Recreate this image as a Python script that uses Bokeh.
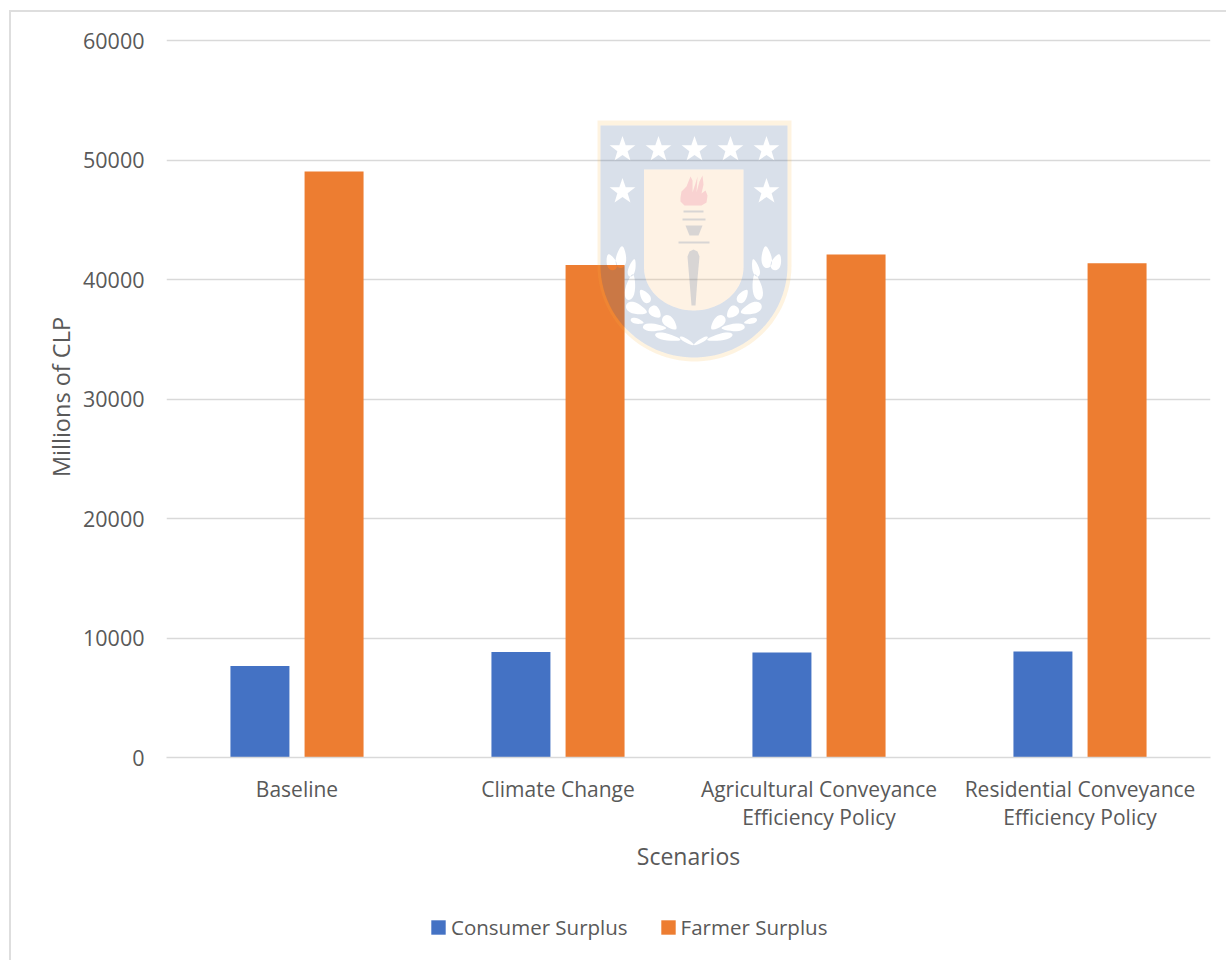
import numpy as np
from bokeh.embed import file_html
from bokeh.layouts import column
from bokeh.resources import INLINE
from bokeh.plotting import figure
from bokeh.models import (ColumnDataSource, FactorRange, Range1d, FixedTicker, Legend, LegendItem,
                          InlineStyleSheet)
from bokeh.transform import dodge

# Economic surplus by scenario, millions of CLP
scenarios = ["Baseline", "Climate Change",
             "Agricultural Conveyance\nEfficiency Policy",
             "Residential Conveyance\nEfficiency Policy"]
consumer_surplus = [7650, 8820, 8780, 8860]
farmer_surplus = [49040, 41220, 42100, 41350]
y_ticks = [0, 10000, 20000, 30000, 40000, 50000, 60000]

FONT = "Open Sans"
TEXT = "#595959"
RULE = "#d9d9d9"
BLUE = "#4472C4"
ORANGE = "#ED7D31"
EDGE = "#dedede"

W = 1226
PLOT_H, LEGEND_H = 905, 55
LEFT, RIGHT, TOP, BOTTOM = 166, 16, 36, 148
# The range runs a little past the top tick so that its grid line is kept
Y_TOP = 60000 * (1 + 4 / 717)

p = figure(width=W, height=PLOT_H, output_backend="svg", toolbar_location=None,
           x_range=FactorRange(factors=scenarios, range_padding=0, factor_padding=0),
           y_range=Range1d(0, Y_TOP),
           min_border_left=LEFT, min_border_right=RIGHT, min_border_top=TOP, min_border_bottom=BOTTOM)
p.outline_line_color = None
p.background_fill_color = "white"
p.border_fill_color = "white"

src = ColumnDataSource(dict(scenario=scenarios, consumer=consumer_surplus, farmer=farmer_surplus))
p.vbar(x=dodge("scenario", -0.142, range=p.x_range), top="consumer", width=0.226, source=src,
       fill_color=BLUE, line_color=None)
p.vbar(x=dodge("scenario", 0.142, range=p.x_range), top="farmer", width=0.226, source=src,
       fill_color=ORANGE, line_color=None)

# Axes and grid
p.xgrid.grid_line_color = None
p.ygrid.grid_line_color = RULE
p.ygrid.grid_line_width = 1.5
p.ygrid.ticker = FixedTicker(ticks=y_ticks)

ax = p.xaxis[0]
ax.axis_line_color = RULE
ax.axis_line_width = 1.5
ax.major_tick_line_color = None
ax.minor_tick_line_color = None
ax.major_label_text_font = FONT
ax.major_label_text_font_size = "21px"
ax.major_label_text_color = TEXT
ax.major_label_standoff = 11
ax.major_label_text_line_height = 1.0
ax.axis_label = "Scenarios"
ax.axis_label_text_font = FONT
ax.axis_label_text_font_style = "normal"
ax.axis_label_text_font_size = "23px"
ax.axis_label_text_color = TEXT
ax.axis_label_standoff = 6

ay = p.yaxis[0]
ay.ticker = FixedTicker(ticks=y_ticks)
ay.axis_line_color = None
ay.major_tick_line_color = None
ay.minor_tick_line_color = None
ay.major_label_text_font = FONT
ay.major_label_text_font_size = "21.5px"
ay.major_label_text_color = TEXT
ay.major_label_standoff = 16
ay.axis_label = "Millions of CLP"
ay.axis_label_text_font = FONT
ay.axis_label_text_font_style = "normal"
ay.axis_label_text_font_size = "23.5px"
ay.axis_label_text_color = TEXT
ay.axis_label_standoff = 3

# Legend strip underneath the plot; its frame lines up with the plot's frame.
# The two key bars have no extent, so only their legend swatches appear.
strip = figure(width=W, height=LEGEND_H, output_backend="svg", toolbar_location=None,
               x_range=Range1d(0, 1), y_range=Range1d(0, 1),
               x_axis_location=None, y_axis_location=None,
               min_border=0, outline_line_color=None)
strip.grid.visible = False
r1 = strip.vbar(x=[-5], top=[-5], bottom=[-5], width=0, fill_color=BLUE, line_color=None)
r2 = strip.vbar(x=[-5], top=[-5], bottom=[-5], width=0, fill_color=ORANGE, line_color=None)
legend = Legend(items=[LegendItem(label="Consumer Surplus", renderers=[r1]),
                       LegendItem(label="Farmer Surplus", renderers=[r2])],
                orientation="horizontal", location=(263, 19),
                padding=0, margin=0, spacing=31, border_line_color=None, background_fill_color=None,
                glyph_width=18, glyph_height=18, label_standoff=4,
                label_text_font=FONT, label_text_font_size="20.5px", label_text_color=TEXT,
                label_height=20)
strip.add_layout(legend, "center")

# Chart area border, open on the right and at the bottom
p.stylesheets = [InlineStyleSheet(css=(
    ":host::after{content:'';position:absolute;left:9px;top:10px;right:0;bottom:0;pointer-events:none;"
    f"border-left:2px solid {EDGE};border-top:2px solid {EDGE};}}"))]
strip.stylesheets = [InlineStyleSheet(css=(
    ":host::after{content:'';position:absolute;left:9px;top:0;bottom:0;pointer-events:none;"
    f"border-left:2px solid {EDGE};}}"))]

# University crest watermark, laid out in canvas pixels
p.extra_y_ranges["crest"] = Range1d(PLOT_H - BOTTOM, TOP)


def gx(values):
    # Canvas x to the category axis' synthetic coordinate
    return ((np.asarray(values, dtype=float) - LEFT) / (W - LEFT - RIGHT) * len(scenarios)).tolist()


def shield(x0, x1, top, shoulder, bottom):
    t = np.linspace(0, np.pi, 50)
    cx, rx = (x0 + x1) / 2, (x1 - x0) / 2
    xs = np.concatenate([[x0, x1], cx + rx * np.cos(t)])
    ys = np.concatenate([[top, top], shoulder + (bottom - shoulder) * np.sin(t)])
    return gx(xs), ys.tolist()


def star(cx, cy, r=13.5):
    a = -np.pi / 2 + np.arange(10) * np.pi / 5
    rr = np.where(np.arange(10) % 2 == 0, r, r * 0.4)
    return gx(cx + rr * np.cos(a)), (cy + rr * np.sin(a)).tolist()


def leaf(zx, zy, length, width, angle, mirror=False):
    # Outline of one laurel leaf; sizes come in 1/3 px
    t = np.linspace(0, 2 * np.pi, 24, endpoint=False)
    u = length / 6 * np.cos(t)
    v = width / 6 * np.sin(t) * (1 - 0.35 * np.cos(t))
    a = np.radians(angle)
    x = 580 + zx / 3 + u * np.cos(a) - v * np.sin(a)
    y = 110 + zy / 3 - u * np.sin(a) - v * np.cos(a)
    if mirror:
        x = 2 * (580 + 340 / 3) - x
    return gx(x), y.tolist()


laurel = [(122, 440, 66, 30, 85), (92, 455, 50, 28, 110), (155, 472, 54, 20, 75),
          (150, 530, 78, 28, 80), (193, 557, 46, 25, 125), (168, 595, 66, 32, -20),
          (224, 605, 42, 30, -45), (170, 632, 40, 16, -15), (268, 637, 54, 30, -45),
          (222, 651, 70, 22, -3), (262, 680, 78, 20, -12), (320, 692, 50, 11, -30)]

hx, hy = shield(600, 787, 125, 265, 357)
fx, fy = shield(597, 791, 120, 265, 361)
px, py = shield(643.5, 743, 169, 267, 310)

holes = [(px, py)]
for cx in (622, 658, 694, 730, 766):
    holes.append(star(cx, 149))
for cx in (622, 766):
    holes.append(star(cx, 191))
for spec in laurel:
    holes.append(leaf(*spec))
    holes.append(leaf(*spec, mirror=True))

crest = dict(y_range_name="crest", line_color=None, level="overlay")

# Warm fringe of the shield
p.multi_polygons(xs=[[[fx, hx]]], ys=[[[fy, hy]]], fill_color="#fab43c", fill_alpha=0.16, **crest)
# Blue field with the stars, inner panel and laurel cut out
p.multi_polygons(xs=[[[hx] + [h[0] for h in holes]]], ys=[[[hy] + [h[1] for h in holes]]],
                 fill_color="#416496", fill_alpha=0.2, **crest)
# Inner panel
p.patch(px, py, fill_color="#fabe78", fill_alpha=0.2, **crest)

# Torch flame
flame_x = [680, 681, 686, 690, 692, 692, 695, 697, 696, 699, 702, 703, 701, 705, 707, 706, 701, 684, 680]
flame_y = [197, 191, 186, 176, 180, 192, 183, 176, 192, 181, 175, 184, 193, 190, 195, 202, 205, 205, 201]
p.patch(gx(flame_x), flame_y, fill_color="#e6608c", fill_alpha=0.22, **crest)
# Torch body
p.quad(left=gx([683, 682, 678]), right=gx([703, 705, 709]), top=[210, 218, 241], bottom=[212, 220, 243],
       fill_color="#416496", fill_alpha=0.2, **crest)
p.patch(gx([685, 702, 698, 689]), [225, 225, 235, 235], fill_color="#416496", fill_alpha=0.2, **crest)
p.patch(gx([687, 689, 693, 697, 699, 697, 695, 691]), [256, 251, 249, 251, 256, 278, 305, 305],
        fill_color="#416496", fill_alpha=0.2, **crest)

page = column(p, strip, spacing=0)
open("out.html", "w").write(file_html(page, INLINE))
